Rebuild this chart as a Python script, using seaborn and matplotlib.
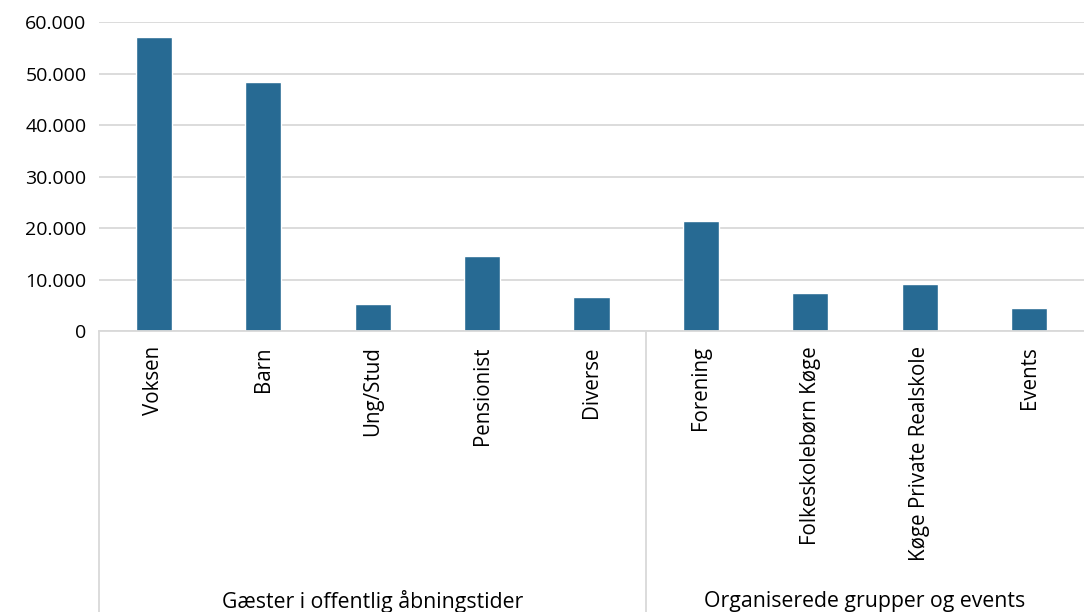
import numpy as np
import pandas as pd
import seaborn as sns
import matplotlib.pyplot as plt
from matplotlib.ticker import FuncFormatter
import matplotlib.transforms as mtransforms

# Data
categories = ['Voksen', 'Barn', 'Ung/Stud', 'Pensionist', 'Diverse',
              'Forening', 'Folkeskolebørn Køge', 'Køge Private Realskole', 'Events']
values = [57000, 48300, 5300, 14500, 6600, 21300, 7400, 9100, 4500]
groups = ['Gæster i offentlig åbningstider', 'Organiserede grupper og events']
group_sizes = [5, 4]

df = pd.DataFrame({'Kategori': categories, 'Antal': values})

sns.set_style('white')
plt.rcParams['font.family'] = ['Open Sans', 'DejaVu Sans']

fig = plt.figure(figsize=(10.84, 6.12), dpi=100)
ax = fig.add_axes([0.0913, 0.459, 0.9087, 0.505])

sns.barplot(data=df, x='Kategori', y='Antal', color='#276A93', saturation=1,
            width=0.33, ax=ax)

ax.set_ylim(0, 60000)
ax.set_xlim(-0.5, len(categories) - 0.5)
ax.set_yticks(np.arange(0, 60001, 10000))
ax.yaxis.set_major_formatter(FuncFormatter(lambda v, p: f'{int(v):,}'.replace(',', '.')))
ax.yaxis.grid(True, color='#D9D9D9', linewidth=1.3)
ax.set_axisbelow(True)
for s in ['top', 'right', 'left']:
    ax.spines[s].set_visible(False)
ax.spines['bottom'].set_color('#D9D9D9')
ax.spines['bottom'].set_linewidth(1.3)

ax.set_xlabel('')
ax.set_ylabel('')
ax.tick_params(axis='y', length=0, labelsize=14, colors='#000000', pad=9)
ax.tick_params(axis='x', length=0, labelsize=14.8, colors='#000000', pad=11)
ax.set_xticks(range(len(categories)))
ax.set_xticklabels(categories, rotation=90, va='top', ha='center')

# multi-level axis: separators and group labels
trans = mtransforms.blended_transform_factory(ax.transData, ax.transAxes)
bottom = -0.459 / 0.505
edges = np.concatenate([[0], np.cumsum(group_sizes)]) - 0.5
for e in edges[:-1]:
    ax.plot([e, e], [0, bottom], transform=trans, color='#D9D9D9',
            linewidth=1.3, clip_on=False)
for g, a, b in zip(groups, edges[:-1], edges[1:]):
    ax.text((a + b) / 2, -0.875, g, transform=trans, ha='center', va='center',
            fontsize=15.3, color='#000000')

plt.savefig('out.png', dpi=100)
